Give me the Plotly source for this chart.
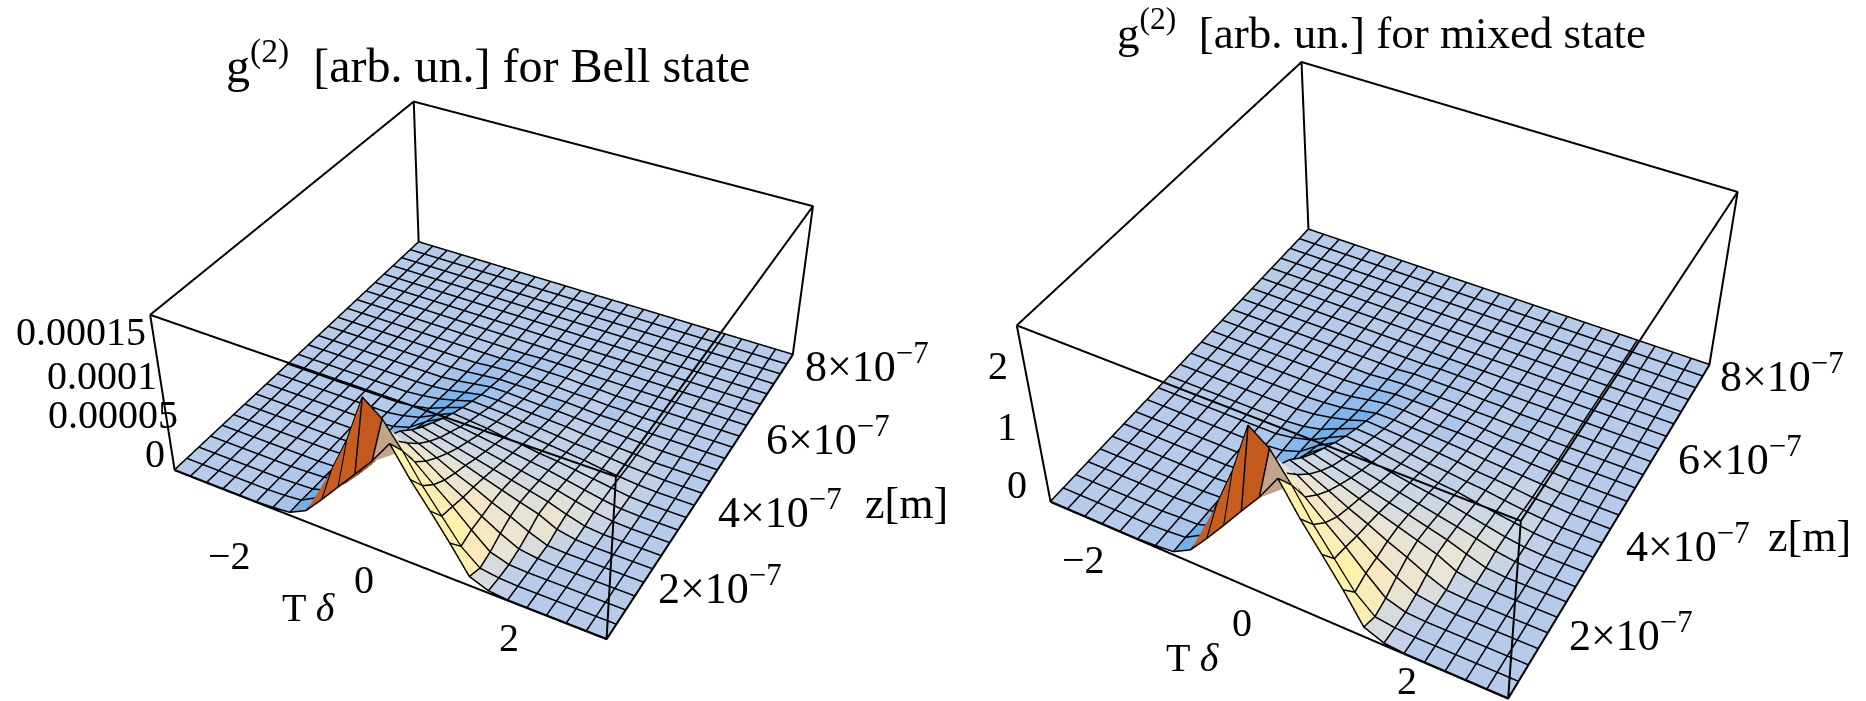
import numpy as np
import plotly.graph_objects as go
from plotly.colors import sample_colorscale

# T delta grid
T_VALUES = [-3, -2.75, -2.5, -2.25, -2, -1.75, -1.5, -1.25, -1, -0.75, -0.5, -0.25, 0,
            0.25, 0.5, 0.75, 1, 1.25, 1.5, 1.75, 2, 2.25, 2.5, 2.75, 3]
# z grid, in units of 1e-7 m
Z_VALUES = [0.8, 1.1125, 1.425, 1.7375, 2.05, 2.3625, 2.675, 2.9875, 3.3, 3.6125, 3.925, 4.2375, 4.55,
            4.8625, 5.175, 5.4875, 5.8, 6.1125, 6.425, 6.7375, 7.05, 7.3625, 7.675, 7.9875, 8.3]

FLAT = [0] * 25

# g2 for the Bell state, in units of 1e-5
BELL = [
    [0, 0, 0, 0, 0, 0, .1, .3, 1.3, 3.4, 5.6, 7.8, 10, 12.6, 9.5, 6.8, 4, 1, .2, 0, 0, 0, 0, 0, 0],
    [0, 0, 0, 0, 0, 0, .1, .3, 1.4, 5.5, 9.6, 14.8, 13.2, 10.5, 7.4, 4.75, 2.1, .4, .1, 0, 0, 0, 0, 0, 0],
    [0, 0, 0, 0, 0, 0, .1, .2, .8, 2.5, 6, 11.25, 9.5, 7.9, 6.1, 4.4, 2.5, .75, .1, 0, 0, 0, 0, 0, 0],
    [0, 0, 0, 0, 0, 0, .1, .2, .7, 2, 5, 8, 7.9, 6.6, 5.2, 4, 2.6, 1.4, .4, .1, 0, 0, 0, 0, 0],
    [0, 0, 0, 0, 0, 0, 0, .1, .5, 1.6, 4, 7.2, 6.5, 5.6, 4.6, 3.75, 2.75, 1.9, .9, .1, 0, 0, 0, 0, 0],
    [0, 0, 0, 0, 0, 0, 0, .1, .4, 1.4, 3.6, 6, 5.4, 4.75, 4.1, 3.4, 2.75, 2.1, 1.5, .5, .1, 0, 0, 0, 0],
    [0, 0, 0, 0, 0, 0, 0, .1, .4, 1.2, 3.2, 5, 4.5, 4, 3.5, 3, 2.5, 2, 1.5, .8, .2, 0, 0, 0, 0],
    [0, 0, 0, 0, 0, 0, 0, .1, .3, 1, 2.8, 4.2, 3.8, 3.4, 3, 2.6, 2.2, 1.8, 1.4, .9, .4, .1, 0, 0, 0],
    [0, 0, 0, 0, 0, 0, 0, .1, .3, .9, 2.3, 3.4, 3.1, 2.8, 2.5, 2.2, 1.9, 1.6, 1.2, .8, .4, .1, 0, 0, 0],
    [0, 0, 0, 0, 0, 0, 0, 0, .3, .8, 1.8, 2.7, 2.5, 2.3, 2, 1.8, 1.5, 1.3, 1, .7, .4, .1, 0, 0, 0],
    [0, 0, 0, 0, 0, 0, 0, 0, .2, .6, 1.4, 2.1, 2, 1.8, 1.6, 1.4, 1.2, 1, .8, .5, .3, .1, 0, 0, 0],
    [0, 0, 0, 0, 0, 0, 0, 0, .2, .5, 1, 1.6, 1.5, 1.4, 1.2, 1.1, .9, .7, .6, .4, .2, .1, 0, 0, 0],
    [0, 0, 0, 0, 0, 0, 0, 0, .1, .3, .7, 1.1, 1.1, 1, .9, .8, .7, .5, .4, .3, .2, 0, 0, 0, 0],
    [0, 0, 0, 0, 0, 0, 0, 0, 0, .2, .5, .8, .8, .7, .6, .6, .5, .4, .3, .2, .1, 0, 0, 0, 0],
    [0, 0, 0, 0, 0, 0, 0, 0, 0, .1, .3, .5, .5, .5, .4, .4, .3, .2, .2, .1, 0, 0, 0, 0, 0],
    [0, 0, 0, 0, 0, 0, 0, 0, 0, 0, .2, .3, .3, .3, .3, .2, .2, .1, .1, 0, 0, 0, 0, 0, 0],
    [0, 0, 0, 0, 0, 0, 0, 0, 0, 0, 0, .2, .2, .2, .2, .1, .1, 0, 0, 0, 0, 0, 0, 0, 0],
    [0, 0, 0, 0, 0, 0, 0, 0, 0, 0, 0, 0, .1, .1, .1, 0, 0, 0, 0, 0, 0, 0, 0, 0, 0],
    FLAT, FLAT, FLAT, FLAT, FLAT, FLAT, FLAT,
]

# g2 for the mixed state
MIXED = [
    [0, 0, 0, 0, 0, 0, .02, .05, .23, .59, .97, 1.36, 1.74, 2.19, 1.65, 1.18, .7, .17, .03, 0, 0, 0, 0, 0, 0],
    [0, 0, 0, 0, 0, 0, .02, .05, .24, .96, 1.67, 2.55, 2.3, 1.83, 1.29, .83, .37, .07, .02, 0, 0, 0, 0, 0, 0],
    [0, 0, 0, 0, 0, 0, .02, .03, .14, .44, 1.04, 1.96, 1.65, 1.37, 1.06, .77, .44, .13, .02, 0, 0, 0, 0, 0, 0],
    [0, 0, 0, 0, 0, 0, .02, .03, .12, .35, .87, 1.39, 1.37, 1.15, .9, .7, .45, .24, .07, .02, 0, 0, 0, 0, 0],
    [0, 0, 0, 0, 0, 0, 0, .02, .09, .28, .7, 1.25, 1.13, .97, .8, .65, .48, .33, .16, .02, 0, 0, 0, 0, 0],
    [0, 0, 0, 0, 0, 0, 0, .02, .07, .24, .63, 1.04, .94, .83, .71, .59, .48, .37, .26, .09, .02, 0, 0, 0, 0],
    [0, 0, 0, 0, 0, 0, 0, .02, .07, .21, .56, .87, .78, .7, .61, .52, .44, .35, .26, .14, .03, 0, 0, 0, 0],
    [0, 0, 0, 0, 0, 0, 0, .02, .05, .17, .49, .73, .66, .59, .52, .45, .38, .31, .24, .16, .07, .02, 0, 0, 0],
    [0, 0, 0, 0, 0, 0, 0, .02, .05, .16, .4, .59, .54, .49, .44, .38, .33, .28, .21, .14, .07, .02, 0, 0, 0],
    [0, 0, 0, 0, 0, 0, 0, 0, .05, .14, .31, .47, .44, .4, .35, .31, .26, .23, .17, .12, .07, .02, 0, 0, 0],
    [0, 0, 0, 0, 0, 0, 0, 0, .03, .1, .24, .37, .35, .31, .28, .24, .21, .17, .14, .09, .05, .02, 0, 0, 0],
    [0, 0, 0, 0, 0, 0, 0, 0, .03, .09, .17, .28, .26, .24, .21, .19, .16, .12, .1, .07, .03, .02, 0, 0, 0],
    [0, 0, 0, 0, 0, 0, 0, 0, .02, .05, .12, .19, .19, .17, .16, .14, .12, .09, .07, .05, .03, 0, 0, 0, 0],
    [0, 0, 0, 0, 0, 0, 0, 0, 0, .03, .09, .14, .14, .12, .1, .1, .09, .07, .05, .03, .02, 0, 0, 0, 0],
    [0, 0, 0, 0, 0, 0, 0, 0, 0, .02, .05, .09, .09, .09, .07, .07, .05, .03, .03, .02, 0, 0, 0, 0, 0],
    [0, 0, 0, 0, 0, 0, 0, 0, 0, 0, .03, .05, .05, .05, .05, .03, .03, .02, .02, 0, 0, 0, 0, 0, 0],
    [0, 0, 0, 0, 0, 0, 0, 0, 0, 0, 0, .03, .03, .03, .03, .02, .02, 0, 0, 0, 0, 0, 0, 0, 0],
    [0, 0, 0, 0, 0, 0, 0, 0, 0, 0, 0, 0, .02, .02, .02, 0, 0, 0, 0, 0, 0, 0, 0, 0, 0],
    FLAT, FLAT, FLAT, FLAT, FLAT, FLAT, FLAT,
]

T_RANGE = [-3, 3]
Z_RANGE = [0.8, 8.3]
BELL_RANGE = [0, 17.5]
MIXED_RANGE = [0, 3.05]

T_TICKS = [-2, 0, 2]
T_TICK_TEXT = ['\u22122', '0', '2']
Z_TICKS = [2, 4, 6, 8]
Z_TICK_TEXT = ['2\u00d710<sup>\u22127</sup>', '4\u00d710<sup>\u22127</sup>', '6\u00d710<sup>\u22127</sup>', '8\u00d710<sup>\u22127</sup>']
BELL_TICKS = [0, 5, 10, 15]
BELL_TICK_TEXT = ['0', '0.00005', '0.0001', '0.00015']
MIXED_TICKS = [0, 1, 2]
MIXED_TICK_TEXT = ['0', '1', '2']

# flat surface in the middle, yellow for slopes facing right, orange and red for slopes facing the viewer
COLORSCALE = [
    [0.0, '#8B2A0C'], [0.2, '#A83A18'], [0.3, '#C9601E'], [0.38, '#E08A48'], [0.42, '#D8A070'], [0.445, '#6FB0EE'],
    [0.5, '#B6CAEA'], [0.54, '#C8D4E6'], [0.65, '#E8E4D4'], [0.8, '#F8E8C0'], [1.0, '#FFF3A8'],
]

FONT = 'Liberation Serif'
WIDTH = 1866
HEIGHT = 1426
PAGE_SHIFT = 366


def cell_colors(values, height_range):
    # one colour per mesh cell, from the slope of that cell
    z = np.array(values, dtype=float)
    span = height_range[1] - height_range[0]
    dt = np.diff(T_VALUES)[None, :]
    dy = np.diff(Z_VALUES)[:, None]
    sx = (z[:-1, 1:] + z[1:, 1:] - z[:-1, :-1] - z[1:, :-1]) / (2 * dt) * (T_RANGE[1] - T_RANGE[0]) / span * 0.4
    sy = (z[1:, :-1] + z[1:, 1:] - z[:-1, :-1] - z[:-1, 1:]) / (2 * dy) * (Z_RANGE[1] - Z_RANGE[0]) / span * 0.4
    peak = np.maximum.reduce([z[:-1, :-1], z[:-1, 1:], z[1:, :-1], z[1:, 1:]])
    mean = (z[:-1, :-1] + z[:-1, 1:] + z[1:, :-1] + z[1:, 1:]) / 4
    right = np.clip(-sx, 0, None) / 1.3
    front = np.minimum(0.3, np.clip(sy, 0, None) / 5 + np.clip(sx - 1, 0, None) / 1.5)
    top = 1.8 * np.clip(mean / span - 0.6, 0, None)
    # just behind the crest the cells go dark red
    crest = 0.6 * ((peak / span > 0.75) & (sy < 0) & (sx > -1))
    tint = np.minimum(0.11, (np.clip(sx, 0, None) + np.clip(-sy, 0, None)) * 0.22)
    c = np.clip(right - front - top - crest - tint, -1, 1)
    # each cell is two triangles
    return sample_colorscale(COLORSCALE, np.repeat((c.ravel() + 1) / 2, 2).tolist())


def cell_triangles():
    n_t = len(T_VALUES)
    i, j, k = [], [], []
    for r in range(len(Z_VALUES) - 1):
        for c in range(n_t - 1):
            a = r * n_t + c
            i += [a, a]
            j += [a + 1, a + n_t + 1]
            k += [a + n_t + 1, a + n_t]
    return i, j, k


def box_edges(height_range):
    xs, ys, zs = [], [], []
    x0, x1 = T_RANGE
    y0, y1 = Z_RANGE
    z0, z1 = height_range
    for h in [z0, z1]:
        xs += [x0, x1, x1, x0, x0, None]
        ys += [y0, y0, y1, y1, y0, None]
        zs += [h, h, h, h, h, None]
    for cx, cy in [(x0, y0), (x1, y0), (x1, y1), (x0, y1)]:
        xs += [cx, cx, None]
        ys += [cy, cy, None]
        zs += [z0, z1, None]
    return xs, ys, zs


def grid_lines(values, height_range):
    # mesh lines, lifted a hair above the surface
    lift = (height_range[1] - height_range[0]) * 0.004
    xs, ys, zs = [], [], []
    for i in range(len(Z_VALUES)):
        for j in range(len(T_VALUES)):
            xs.append(T_VALUES[j])
            ys.append(Z_VALUES[i])
            zs.append(values[i][j] + lift)
        xs.append(None)
        ys.append(None)
        zs.append(None)
    for j in range(len(T_VALUES)):
        for i in range(len(Z_VALUES)):
            xs.append(T_VALUES[j])
            ys.append(Z_VALUES[i])
            zs.append(values[i][j] + lift)
        xs.append(None)
        ys.append(None)
        zs.append(None)
    return xs, ys, zs


def label(x, y, z, text, xshift, yshift, anchor='center', size=40):
    return dict(x=x, y=y, z=z, text=text, showarrow=False, xshift=xshift, yshift=yshift, xanchor=anchor,
                yanchor='middle', font=dict(family=FONT, size=size, color='black'))


def axis(rng):
    # a little wider than the box so its edges are not cut by the scene bounds
    pad = (rng[1] - rng[0]) * 0.002
    return dict(range=[rng[0] - pad, rng[1] + pad], autorange=False, visible=False)


def scene_layout(domain_x, domain_y, height_range, annotations, eye, box_z):
    return dict(domain=dict(x=domain_x, y=domain_y), xaxis=axis(T_RANGE), yaxis=axis(Z_RANGE), zaxis=axis(height_range),
                aspectmode='manual', aspectratio=dict(x=1, y=1, z=box_z),
                camera=dict(eye=eye, up=dict(x=0, y=0, z=1), center=dict(x=0, y=0, z=0)),
                annotations=annotations)


def add_plot(fig, scene, values, height_range):
    tt, yy = np.meshgrid(T_VALUES, Z_VALUES)
    i, j, k = cell_triangles()
    fig.add_trace(go.Mesh3d(
        x=tt.ravel(), y=yy.ravel(), z=np.array(values, dtype=float).ravel(), i=i, j=j, k=k,
        facecolor=cell_colors(values, height_range), flatshading=True, scene=scene, hoverinfo='skip',
        lighting=dict(ambient=1, diffuse=0, specular=0, roughness=1, fresnel=0),
    ))
    gx, gy, gz = grid_lines(values, height_range)
    fig.add_trace(go.Scatter3d(x=gx, y=gy, z=gz, mode='lines', line=dict(color='black', width=3), scene=scene,
                               hoverinfo='skip', connectgaps=False))
    xs, ys, zs = box_edges(height_range)
    fig.add_trace(go.Scatter3d(x=xs, y=ys, z=zs, mode='lines', line=dict(color='black', width=4), scene=scene,
                               hoverinfo='skip', connectgaps=False))


def page_title(px, py, text, size):
    return dict(xref='paper', yref='paper', x=px / WIDTH, y=1 - (py + PAGE_SHIFT) / HEIGHT, text=text, showarrow=False,
                xanchor='center', yanchor='middle', font=dict(family=FONT, size=size, color='black'))


bell_labels = [
    label(-3, 0.8, BELL_TICKS[0], BELL_TICK_TEXT[0], -8, 16, 'right'),
    label(-3, 0.8, BELL_TICKS[1], BELL_TICK_TEXT[1], 12, 13, 'right'),
    label(-3, 0.8, BELL_TICKS[2], BELL_TICK_TEXT[2], -2, 8, 'right'),
    label(-3, 0.8, BELL_TICKS[3], BELL_TICK_TEXT[3], -6, 6, 'right'),
    label(T_TICKS[0], 0.8, 0, T_TICK_TEXT[0], -10, -60),
    label(T_TICKS[1], 0.8, 0, T_TICK_TEXT[1], -14, -30),
    label(T_TICKS[2], 0.8, 0, T_TICK_TEXT[2], -18, -30),
    label(-0.5, 0.8, 0, 'T <i>\u03b4</i>', -33, -72),
]
mixed_labels = [
    label(-3, 0.8, MIXED_TICKS[0], MIXED_TICK_TEXT[0], -22, 17, 'right'),
    label(-3, 0.8, MIXED_TICKS[1], MIXED_TICK_TEXT[1], -21, 21, 'right'),
    label(-3, 0.8, MIXED_TICKS[2], MIXED_TICK_TEXT[2], -19, 24, 'right'),
    label(T_TICKS[0], 0.8, 0, T_TICK_TEXT[0], -37, -28),
    label(T_TICKS[1], 0.8, 0, T_TICK_TEXT[1], -25, -28),
    label(T_TICKS[2], 0.8, 0, T_TICK_TEXT[2], -18, -18),
    label(-0.5, 0.8, 0, 'T <i>\u03b4</i>', -36, -79),
]
bell_z_shift = [(14, -1), (20, -7), (20, -7), (16, 0)]
mixed_z_shift = [(21, 3), (20, -3), (20, -2), (15, 3)]
for i in range(len(Z_TICKS)):
    bell_labels.append(label(3, Z_TICKS[i], 0, Z_TICK_TEXT[i], bell_z_shift[i][0], bell_z_shift[i][1], 'left', 44))
    mixed_labels.append(label(3, Z_TICKS[i], 0, Z_TICK_TEXT[i], mixed_z_shift[i][0], mixed_z_shift[i][1], 'left', 44))
bell_labels.append(label(3, 4, 0, 'z[m]', 167, -1, 'left', 44))
mixed_labels.append(label(3, 4, 0, 'z[m]', 162, 4, 'left', 44))

fig = go.Figure()
add_plot(fig, 'scene', BELL, BELL_RANGE)
add_plot(fig, 'scene2', MIXED, MIXED_RANGE)

# both scenes are taller than the window because plotly's field of view is fixed
fig.update_layout(
    width=WIDTH, height=HEIGHT, margin=dict(l=0, r=0, t=0, b=0, pad=0), paper_bgcolor='white', showlegend=False,
    scene=scene_layout([56 / WIDTH, 940 / WIDTH], [0.0431, 0.9723], BELL_RANGE, bell_labels,
                       dict(x=1.3, y=-2.4, z=2), 0.4),
    scene2=scene_layout([922 / WIDTH, 1], [0, 1], MIXED_RANGE, mixed_labels,
                        dict(x=1.207, y=-2.229, z=2.24), 0.46),
    annotations=[
        page_title(488, 62, 'g<sup>(2)</sup>  [arb. un.] for Bell state', 48),
        page_title(1381, 29, 'g<sup>(2)</sup>  [arb. un.] for mixed state', 45),
    ],
)

fig.write_html("out.html", post_script=(
    "document.getElementById('{plot_id}').style.marginTop='-%dpx';"
    "document.body.style.margin='0';document.body.style.overflow='hidden';" % PAGE_SHIFT))
